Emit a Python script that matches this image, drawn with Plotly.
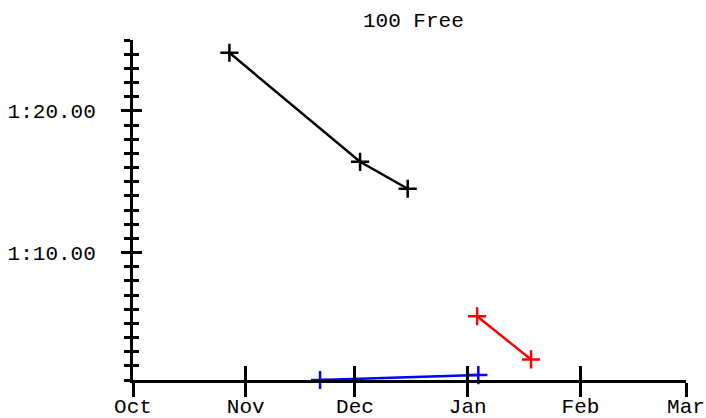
import plotly.graph_objects as go

# swim times (seconds) by meet date
black_dates = ["2019-10-27 12:00", "2019-12-02 10:00", "2019-12-15 12:00"]
black_times = [84.1, 76.4, 74.5]

red_dates = ["2020-01-03 14:00", "2020-01-18 10:00"]
red_times = [65.5, 62.45]

blue_dates = ["2019-11-21 10:00", "2020-01-03 22:00"]
blue_times = [61.0, 61.35]

y_tickvals = [70, 80]
y_ticktext = ["1:10.00", "1:20.00"]

x_range = ["2019-10-01", "2020-03-01"]
y_range = [61, 85]

FONT = "Liberation Mono, Courier New, monospace"

fig = go.Figure()

for dates, times, color in [(black_dates, black_times, "black"),
                            (red_dates, red_times, "red"),
                            (blue_dates, blue_times, "blue")]:
    fig.add_trace(go.Scatter(
        x=dates, y=times,
        mode="lines+markers",
        line=dict(color=color, width=2.5),
        marker=dict(symbol="cross-thin", size=13,
                    line=dict(color=color, width=2.5)),
        cliponaxis=False,
        showlegend=False,
    ))

# invisible trace so the overlay axes (inside ticks) get drawn
fig.add_trace(go.Scatter(x=x_range, y=y_range, xaxis="x2", yaxis="y2",
                         mode="markers", marker=dict(opacity=0),
                         showlegend=False, hoverinfo="skip"))

axis_common = dict(showline=True, linecolor="black", linewidth=3,
                   showgrid=False, zeroline=False, tickcolor="black",
                   tickwidth=2.5, automargin=False)

fig.update_layout(
    width=706, height=418,
    margin=dict(l=133, r=20, t=40, b=38),
    paper_bgcolor="white", plot_bgcolor="white",
    font=dict(family=FONT, size=21, color="black"),
    title=dict(text="100 Free", x=0.507, xref="paper", xanchor="center",
               y=0.952, yanchor="middle",
               font=dict(family=FONT, size=21, color="black")),
    xaxis=dict(type="date", range=x_range, dtick="M1", tick0="2019-10-01",
               tickformat="%b", ticks="outside", ticklen=14,
               ticklabelstandoff=-9, **axis_common),
    xaxis2=dict(type="date", range=x_range, dtick="M1", tick0="2019-10-01",
                overlaying="x", side="bottom", ticks="inside", ticklen=14,
                showticklabels=False, **axis_common),
    yaxis=dict(range=y_range, tickvals=y_tickvals, ticktext=y_ticktext,
               ticks="outside", ticklen=9, ticklabelstandoff=21,
               minor=dict(dtick=1, tick0=0, ticks="outside", ticklen=6,
                          tickcolor="black", tickwidth=2.5),
               **axis_common),
    yaxis2=dict(range=y_range, tickvals=y_tickvals, overlaying="y",
                side="left", ticks="inside", ticklen=9,
                showticklabels=False,
                minor=dict(dtick=1, tick0=0, ticks="inside", ticklen=6,
                           tickcolor="black", tickwidth=2.5),
                **axis_common),
)

# drop the browser's default 8px body margin so the figure sits at (0, 0)
fig.write_html("out.html", config={"displayModeBar": False},
               post_script="document.body.style.margin='0';")
